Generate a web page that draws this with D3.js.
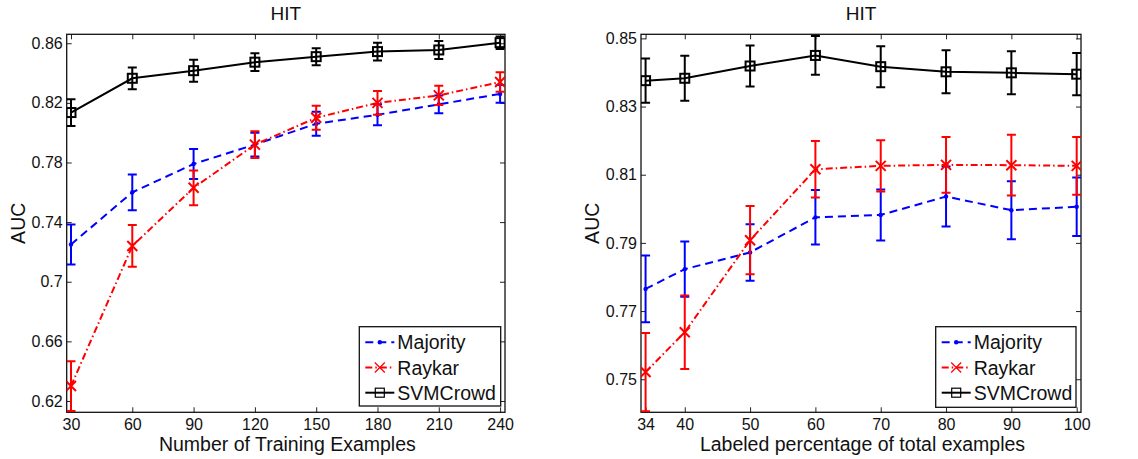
<!DOCTYPE html>
<html>
<head>
<meta charset="utf-8">
<script src="https://cdn.jsdelivr.net/npm/d3@7"></script>
<style>
  body { margin: 0; background: #fff; }
  svg { display: block; font-family: "Liberation Sans", Arial, sans-serif; }
</style>
</head>
<body>
<svg id="chart" width="1138" height="459"></svg>
<script>
// ---- data: left panel (number of training examples) ----
const trainX = [30, 60, 90, 120, 150, 180, 210, 240];
const trainMajority = [0.725, 0.760, 0.779, 0.792, 0.806, 0.812, 0.819, 0.826];
const trainMajorityErr = [0.0134, 0.012, 0.010, 0.008, 0.008, 0.007, 0.006, 0.006];
const trainRaykar = [0.630, 0.724, 0.763, 0.792, 0.810, 0.820, 0.825, 0.834];
const trainRaykarErr = [0.0167, 0.014, 0.0117, 0.009, 0.008, 0.008, 0.0064, 0.0066];
const trainSVM = [0.8135, 0.8365, 0.8416, 0.8473, 0.851, 0.8544, 0.8555, 0.8604];
const trainSVMErr = [0.009, 0.0073, 0.0074, 0.006, 0.0057, 0.006, 0.006, 0.0042];
const trainTicksX = [30, 60, 90, 120, 150, 180, 210, 240];
const trainTicksY = [0.62, 0.66, 0.7, 0.74, 0.78, 0.82, 0.86];

// ---- data: right panel (labeled percentage) ----
const pctX = [34, 40, 50, 60, 70, 80, 90, 100];
const pctMajority = [0.7765, 0.7823, 0.7872, 0.7975, 0.7982, 0.8036, 0.7996, 0.8006];
const pctMajorityErr = [0.0098, 0.0081, 0.0083, 0.008, 0.0075, 0.0088, 0.0085, 0.0086];
const pctRaykar = [0.7521, 0.7638, 0.7908, 0.8116, 0.8126, 0.8129, 0.8128, 0.8126];
const pctRaykarErr = [0.0115, 0.0108, 0.010, 0.0083, 0.0075, 0.0082, 0.0089, 0.0085];
const pctSVM = [0.8376, 0.8383, 0.8419, 0.8450, 0.8417, 0.8402, 0.8399, 0.8395];
const pctSVMErr = [0.0065, 0.0066, 0.006, 0.0057, 0.006, 0.0063, 0.0063, 0.0062];
const pctTicksX = [34, 40, 50, 60, 70, 80, 90, 100];
const pctTicksY = [0.75, 0.77, 0.79, 0.81, 0.83, 0.85];

const seriesNames = ["Majority", "Raykar", "SVMCrowd"];
const seriesColors = ["#0000ff", "#ff0000", "#000000"];
const seriesDash = ["8,5", "7,3,1.5,3", null];
const seriesMarker = ["dot", "x", "square"];

const svg = d3.select("#chart");

function drawMarker(g, type, cx, cy, color, lw) {
  if (type === "dot") {
    g.append("circle").attr("cx", cx).attr("cy", cy).attr("r", 2.2).attr("fill", color);
  } else if (type === "x") {
    const s = 5;
    g.append("path")
      .attr("d", `M${cx - s},${cy - s}L${cx + s},${cy + s}M${cx - s},${cy + s}L${cx + s},${cy - s}`)
      .attr("stroke", color).attr("stroke-width", lw).attr("fill", "none");
  } else {
    const s = 4.5;
    g.append("rect").attr("x", cx - s).attr("y", cy - s).attr("width", 2 * s).attr("height", 2 * s)
      .attr("stroke", color).attr("stroke-width", lw).attr("fill", "none");
  }
}

function panel(opts) {
  const { left, right, top, bottom, xDomain, yDomain, xs, series, errs, ticksX, ticksY, xLabel, id, legendBox } = opts;
  const x = d3.scaleLinear().domain(xDomain).range([left, right]);
  const y = d3.scaleLinear().domain(yDomain).range([bottom, top]);
  const fmt = d => String(+d.toFixed(2));

  const g = svg.append("g");

  g.append("defs").append("clipPath").attr("id", "clip-" + id)
    .append("rect").attr("x", left).attr("y", top).attr("width", right - left).attr("height", bottom - top);

  // axes with inward ticks on all sides
  g.append("g").attr("transform", `translate(0,${bottom})`)
    .call(d3.axisBottom(x).tickValues(ticksX).tickSizeInner(-5).tickSizeOuter(0).tickPadding(6.5).tickFormat(d3.format("d")));
  g.append("g").attr("transform", `translate(0,${top})`)
    .call(d3.axisTop(x).tickValues(ticksX).tickSizeInner(-5).tickSizeOuter(0).tickFormat(""));
  g.append("g").attr("transform", `translate(${left},0)`)
    .call(d3.axisLeft(y).tickValues(ticksY).tickSizeInner(-5).tickSizeOuter(0).tickPadding(4).tickFormat(fmt));
  g.append("g").attr("transform", `translate(${right},0)`)
    .call(d3.axisRight(y).tickValues(ticksY).tickSizeInner(-5).tickSizeOuter(0).tickFormat(""));
  g.selectAll(".domain").remove();
  g.selectAll(".tick line").attr("stroke", "#222").attr("stroke-width", 1);
  g.selectAll(".tick text").attr("font-size", 16).attr("fill", "#111")
    .attr("font-family", "'Liberation Sans', Arial, sans-serif");

  g.append("rect").attr("x", left).attr("y", top).attr("width", right - left).attr("height", bottom - top)
    .attr("fill", "none").attr("stroke", "#111").attr("stroke-width", 1.3);

  // series
  const plot = g.append("g").attr("clip-path", `url(#clip-${id})`);
  series.forEach((vals, si) => {
    const color = seriesColors[si];
    const sg = plot.append("g");
    const line = d3.line().x((d, i) => x(xs[i])).y(d => y(d));
    sg.append("path").datum(vals).attr("d", line).attr("fill", "none")
      .attr("stroke", color).attr("stroke-width", 2)
      .attr("stroke-dasharray", seriesDash[si]);
    vals.forEach((v, i) => {
      const cx = x(xs[i]);
      const y0 = y(v - errs[si][i]), y1 = y(v + errs[si][i]);
      const cw = 4.5;
      sg.append("path")
        .attr("d", `M${cx},${y0}L${cx},${y1}M${cx - cw},${y0}L${cx + cw},${y0}M${cx - cw},${y1}L${cx + cw},${y1}`)
        .attr("stroke", color).attr("stroke-width", 2).attr("fill", "none");
      drawMarker(sg, seriesMarker[si], cx, y(v), color, 2);
    });
  });

  // title and labels
  g.append("text").attr("x", (left + right) / 2).attr("y", 20).attr("text-anchor", "middle")
    .attr("font-size", 19).attr("fill", "#111").text("HIT");
  g.append("text").attr("x", (left + right) / 2 + 1.5).attr("y", 451).attr("text-anchor", "middle")
    .attr("font-size", 19.5).attr("fill", "#111").text(xLabel);
  g.append("text").attr("transform", `translate(${left - 42},${(top + bottom) / 2}) rotate(-90)`)
    .attr("text-anchor", "middle").attr("font-size", 19.5).attr("fill", "#111").text("AUC");

  // legend
  const [lx0, ly0, lx1, ly1] = legendBox;
  const lg = g.append("g");
  lg.append("rect").attr("x", lx0).attr("y", ly0).attr("width", lx1 - lx0).attr("height", ly1 - ly0)
    .attr("fill", "#fff").attr("stroke", "#111").attr("stroke-width", 1.3);
  seriesNames.forEach((name, si) => {
    const cy = ly0 + 15.6 + si * 25.2;
    const sx0 = lx0 + 6, sx1 = lx0 + 35;
    lg.append("line").attr("x1", sx0).attr("x2", sx1).attr("y1", cy).attr("y2", cy)
      .attr("stroke", seriesColors[si]).attr("stroke-width", 2)
      .attr("stroke-dasharray", seriesDash[si]);
    drawMarker(lg, seriesMarker[si], (sx0 + sx1) / 2, cy, seriesColors[si], 1.2);
    lg.append("text").attr("x", sx1 + 3).attr("y", cy + 7).attr("font-size", 19.5).attr("fill", "#111").text(name);
  });
}

panel({
  id: "left", left: 66.7, right: 505, top: 34.3, bottom: 412.3,
  xDomain: [27.9, 242.4], yDomain: [0.6124, 0.866],
  xs: trainX,
  series: [trainMajority, trainRaykar, trainSVM],
  errs: [trainMajorityErr, trainRaykarErr, trainSVMErr],
  ticksX: trainTicksX, ticksY: trainTicksY,
  xLabel: "Number of Training Examples",
  legendBox: [359.3, 326.7, 500.7, 406]
});

panel({
  id: "right", left: 641, right: 1081, top: 34.3, bottom: 412.3,
  xDomain: [33.3, 100.66], yDomain: [0.7403, 0.8512],
  xs: pctX,
  series: [pctMajority, pctRaykar, pctSVM],
  errs: [pctMajorityErr, pctRaykarErr, pctSVMErr],
  ticksX: pctTicksX, ticksY: pctTicksY,
  xLabel: "Labeled percentage of total examples",
  legendBox: [935.7, 326.7, 1076, 407.3]
});
</script>
</body>
</html>
